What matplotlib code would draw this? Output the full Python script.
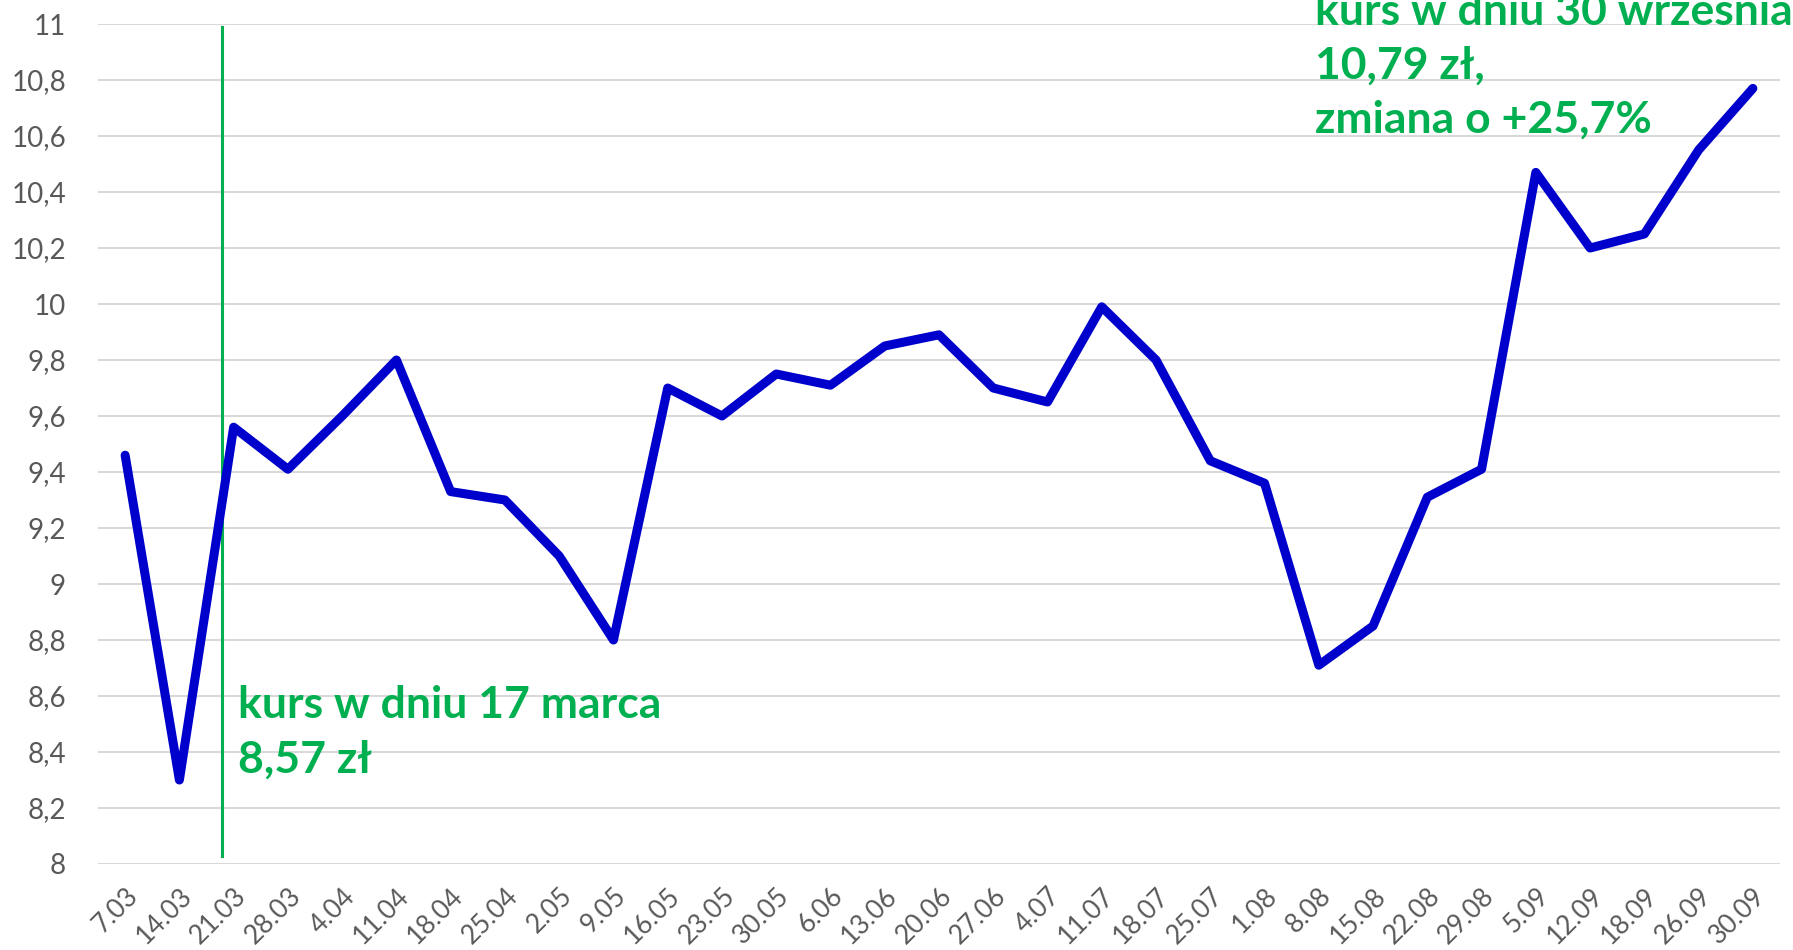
import matplotlib
matplotlib.use("Agg")
import matplotlib.pyplot as plt
import numpy as np

# weekly rate
dates = ['7.03', '14.03', '21.03', '28.03', '4.04', '11.04', '18.04', '25.04',
         '2.05', '9.05', '16.05', '23.05', '30.05', '6.06', '13.06', '20.06',
         '27.06', '4.07', '11.07', '18.07', '25.07', '1.08', '8.08', '15.08',
         '22.08', '29.08', '5.09', '12.09', '18.09', '26.09', '30.09']
kurs = [9.46, 8.30, 9.56, 9.41, 9.60, 9.80, 9.33, 9.30, 9.10, 8.80, 9.70,
        9.60, 9.75, 9.71, 9.85, 9.89, 9.70, 9.65, 9.99, 9.80, 9.44, 9.36,
        8.71, 8.85, 9.31, 9.41, 10.47, 10.20, 10.25, 10.55, 10.77]
yticks = np.arange(8, 11.01, 0.2)
ytick_labels = [('%.1f' % v).replace('.', ',').replace(',0', '') for v in yticks]

marker_pos = 1.79
note_left = 'kurs w dniu 17 marca\n8,57 zł'
note_right = 'kurs w dniu 30 września\n10,79 zł,\nzmiana o +25,7%'

GREEN = '#00B050'
plt.rcParams['font.family'] = ['Lato', 'DejaVu Sans']

fig = plt.figure(figsize=(17.93, 9.5), dpi=100)
ax = fig.add_axes([98 / 1793, 1 - 864 / 950, (1780 - 98) / 1793, (864 - 24) / 950])

x = np.arange(len(dates))
ax.plot(x, kurs, color='#0000CC', lw=6.5, solid_joinstyle='round',
        solid_capstyle='round', zorder=3)
ax.plot([marker_pos, marker_pos], [8.03, 10.99], color=GREEN, lw=2.2, zorder=2)

ax.set_xlim(-0.5, len(dates) - 0.5)
ax.set_ylim(8, 11)
ax.set_yticks(yticks)
ax.set_yticklabels(ytick_labels)
ax.set_xticks(x)
ax.set_xticklabels(dates, rotation=45, ha='right', rotation_mode='anchor')
ax.tick_params(axis='y', length=0, pad=23, labelsize=20, labelcolor='#595959')
ax.tick_params(axis='x', length=0, pad=14, labelsize=19, labelcolor='#595959')

ax.grid(axis='y', color='#D9D9D9', lw=1.5)
ax.set_axisbelow(True)
for s in ax.spines.values():
    s.set_visible(False)

ax.text(2.08, 8.47, note_left, color=GREEN, fontsize=32, fontweight='bold',
        va='center', ha='left', linespacing=1.42)
fig.text(1315 / 1793, 1 - 66 / 950, note_right, color=GREEN, fontsize=32,
         fontweight='bold', va='center', ha='left', linespacing=1.42)

fig.savefig('out.png', dpi=100, facecolor='white')
